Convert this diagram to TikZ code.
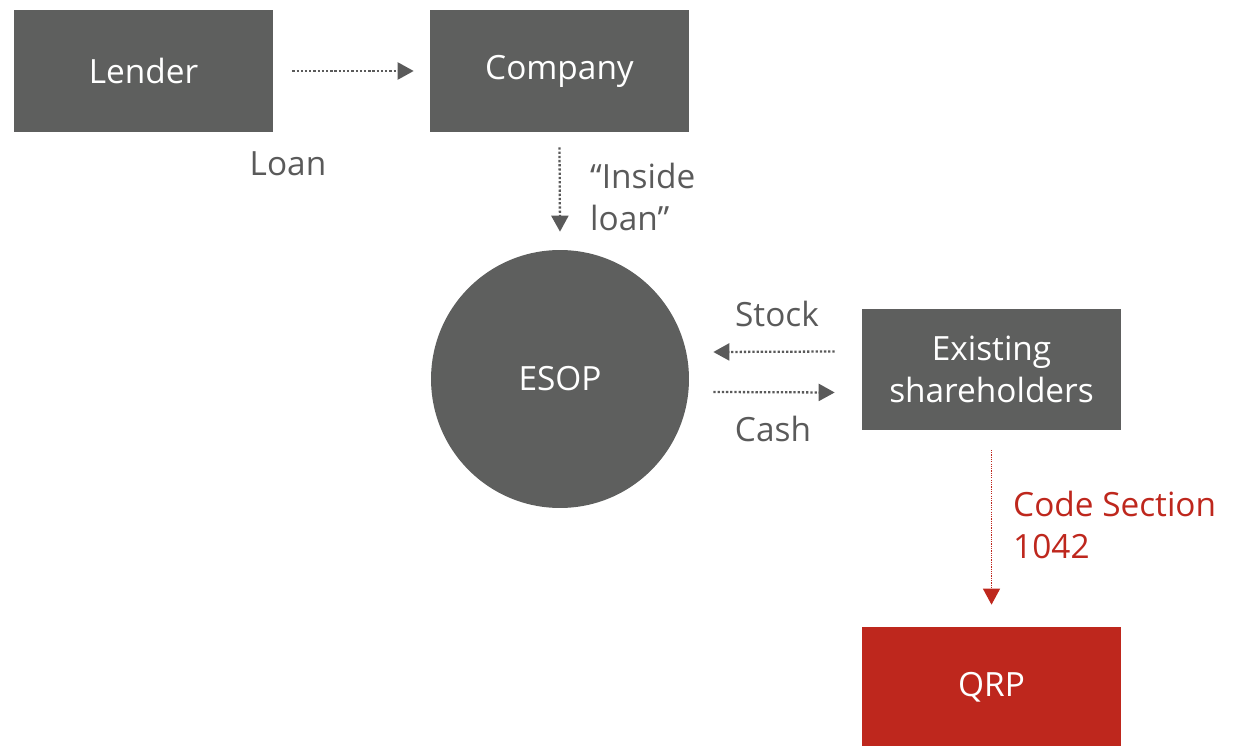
\documentclass[tikz,border=0pt]{standalone}
\usepackage{fontspec}
\setmainfont{Open Sans}
\usetikzlibrary{shapes, arrows.meta, positioning}

\definecolor{boxgray}{HTML}{5E5F5E}
\definecolor{labelgray}{HTML}{5A5A5A}
\definecolor{qrpred}{HTML}{BE271D}

\begin{document}
\begin{tikzpicture}[x=0.02cm, y=-0.02cm,
  box/.style={rectangle, fill=boxgray, text=white, minimum width=5.18cm, minimum height=2.44cm, align=center, font=\fontsize{19}{24}\selectfont},
  flow/.style={-{Triangle[length=0.32cm, width=0.34cm]}, labelgray, line width=1.3pt, dash pattern=on 1.3pt off 1.1pt},
  lbl/.style={text=labelgray, align=left, font=\fontsize{19}{24}\selectfont}]

\useasboundingbox (0,0) rectangle (1247,746);

% Nodes
\node (lender) [box] at (143.5,71) {Lender};
\node (company) [box] at (559.5,71) {Company};
\node (esop) [circle, fill=boxgray, text=white, minimum size=5.16cm, font=\fontsize{19}{24}\selectfont] at (560,379) {ESOP};
\node (holders) [box] at (991.5,369.5) {Existing\\shareholders};
\node (qrp) [box, fill=qrpred, minimum height=2.4cm] at (991.5,687) {QRP};

% Arrows
\draw[flow] ([xshift=0.38cm]lender.east) -- ([xshift=-0.32cm]company.west);
\draw[flow] ([yshift=-0.3cm]company.south) -- ([yshift=0.36cm]esop.north);
\draw[flow] ([xshift=-0.54cm, yshift=0.36cm]holders.west) -- ([xshift=0.48cm, yshift=0.54cm]esop.east);
\draw[flow] ([xshift=0.48cm, yshift=-0.26cm]esop.east) -- ([xshift=-0.54cm, yshift=-0.46cm]holders.west);
\draw[flow, qrpred, line width=0.7pt, dash pattern=on 0.7pt off 0.6pt] ([yshift=-0.38cm]holders.south) -- ([yshift=0.44cm]qrp.north);

% Labels
\node (loan) [lbl] at (288,164) {Loan};
\node (inside) [lbl, anchor=west] at (584,197) {“Inside\\loan”};
\node (stock) [lbl] at (777,314) {Stock};
\node (cash) [lbl] at (773,429) {Cash};
\node (code) [lbl, text=qrpred, anchor=west] at (1007,525) {Code Section\\1042};

\end{tikzpicture}
\end{document}
